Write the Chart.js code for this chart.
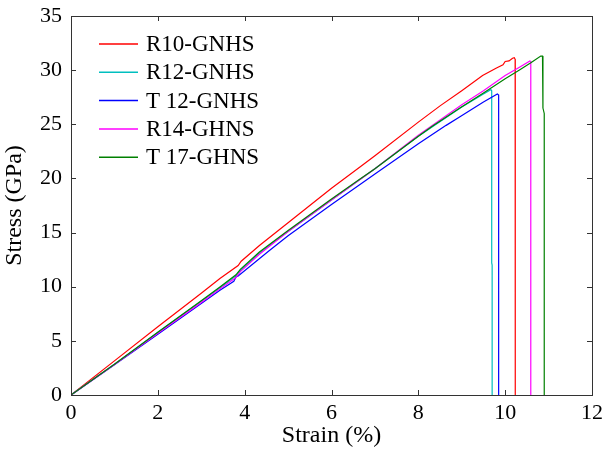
<!DOCTYPE html>
<html>
<head>
<meta charset="utf-8">
<script src="https://cdn.jsdelivr.net/npm/chart.js@4.4.0/dist/chart.umd.min.js"></script>
<style>
  html, body { margin: 0; padding: 0; background: #fff; }
  #wrap { width: 603px; height: 450px; }
</style>
</head>
<body>
<div id="wrap"><canvas id="stressChart" width="603" height="450"></canvas></div>
<script>
// values (strain %, stress GPa)
const seriesNames = ['R10-GNHS', 'R12-GNHS', 'T 12-GNHS', 'R14-GHNS', 'T 17-GHNS'];
const seriesColors = ['rgb(255,0,0)', 'rgb(0,191,191)', 'rgb(0,0,255)', 'rgb(255,0,255)', 'rgb(0,128,0)'];

const r10X = [0, 1, 2, 3, 3.43, 3.85, 3.92, 4.34, 5, 6, 6.64, 7, 8, 8.5, 9, 9.48, 9.8, 9.95, 10.0, 10.09, 10.17, 10.21, 10.23, 10.23, 10.235];
const r10Y = [0, 3.15, 6.3, 9.4, 10.75, 11.95, 12.35, 13.8, 15.9, 19.1, 21.0, 22.1, 25.2, 26.7, 28.1, 29.5, 30.2, 30.5, 30.8, 30.85, 31.1, 31.15, 31.0, 15, 0];

const r12X = [0, 1, 2, 3, 3.43, 3.8, 3.9, 4.34, 5, 6, 7, 8, 9, 9.5, 9.67, 9.69, 9.69, 9.70, 9.70];
const r12Y = [0, 2.85, 5.8, 8.65, 9.9, 11.0, 11.5, 13.1, 15.1, 18.0, 20.9, 23.9, 26.6, 27.8, 28.2, 28.1, 12.2, 12.0, 0];

const t12X = [0, 1, 2, 3, 3.43, 3.75, 3.8, 3.85, 4.57, 5, 6, 6.64, 7, 8, 8.64, 8.94, 9.5, 9.82, 9.85, 9.85];
const t12Y = [0, 2.8, 5.6, 8.45, 9.67, 10.5, 10.9, 11.0, 13.35, 14.7, 17.6, 19.4, 20.4, 23.2, 24.9, 25.65, 27.05, 27.8, 27.7, 0];

const r14X = [0, 1, 2, 3, 3.43, 3.8, 3.9, 4.34, 5, 6, 7, 8, 9, 9.5, 10, 10.3, 10.57, 10.59, 10.59];
const r14Y = [0, 2.82, 5.7, 8.55, 9.8, 10.85, 11.4, 13.0, 15.1, 18.0, 20.9, 24.0, 26.8, 28.1, 29.5, 30.2, 30.85, 30.8, 0];

const t17X = [0, 1, 2, 3, 3.43, 3.8, 3.9, 4.34, 5, 6, 6.64, 7, 8, 8.33, 8.94, 9.5, 10, 10.32, 10.6, 10.82, 10.86, 10.87, 10.90, 10.90];
const t17Y = [0, 2.85, 5.8, 8.7, 9.97, 11.1, 11.6, 13.2, 15.2, 18.1, 19.9, 20.9, 23.9, 24.85, 26.45, 27.9, 29.2, 30.0, 30.7, 31.3, 31.3, 26.5, 26.0, 0];

const xTicks = [0, 2, 4, 6, 8, 10, 12];
const yTicks = [0, 5, 10, 15, 20, 25, 30, 35];

const allX = [r10X, r12X, t12X, r14X, t17X];
const allY = [r10Y, r12Y, t12Y, r14Y, t17Y];

const FONT = '"Liberation Serif", "Times New Roman", serif';

function toPoints(xs, ys) {
    return xs.map((x, i) => ({ x: x, y: ys[i] }));
}

const datasets = seriesNames.map((name, i) => ({
    label: name,
    data: toPoints(allX[i], allY[i]),
    borderColor: seriesColors[i],
    backgroundColor: seriesColors[i],
    borderWidth: 1.2,
    pointRadius: 0,
    tension: 0,
    fill: false,
    order: seriesNames.length - i   // later series on top, like the original
}));

// inward tick marks on all four sides + box
const boxTicks = {
    id: 'boxTicks',
    afterDraw(chart) {
        const ctx = chart.ctx;
        const a = chart.chartArea;
        const xs = chart.scales.x, ys = chart.scales.y;
        const len = 5;
        ctx.save();
        ctx.strokeStyle = '#333';
        ctx.lineWidth = 1;
        ctx.strokeRect(Math.round(a.left) + 0.5, Math.round(a.top) + 0.5, Math.round(a.right - a.left), Math.round(a.bottom - a.top));
        ctx.beginPath();
        xTicks.forEach(v => {
            const px = Math.round(xs.getPixelForValue(v)) + 0.5;
            ctx.moveTo(px, a.bottom); ctx.lineTo(px, a.bottom - len);
            ctx.moveTo(px, a.top); ctx.lineTo(px, a.top + len);
        });
        yTicks.forEach(v => {
            const py = Math.round(ys.getPixelForValue(v)) + 0.5;
            ctx.moveTo(a.left, py); ctx.lineTo(a.left + len, py);
            ctx.moveTo(a.right, py); ctx.lineTo(a.right - len, py);
        });
        ctx.stroke();
        ctx.restore();
    }
};

// legend drawn inside the plot, top-left
const insideLegend = {
    id: 'insideLegend',
    afterDraw(chart) {
        const ctx = chart.ctx;
        const a = chart.chartArea;
        ctx.save();
        ctx.font = '23px ' + FONT;
        ctx.textBaseline = 'middle';
        ctx.fillStyle = '#000';
        chart.data.datasets.forEach((ds, i) => {
            const y = a.top + 28 + i * 28.3;
            ctx.strokeStyle = ds.borderColor;
            ctx.lineWidth = 1.5;
            ctx.beginPath();
            ctx.moveTo(a.left + 28, y);
            ctx.lineTo(a.left + 67, y);
            ctx.stroke();
            ctx.fillText(ds.label, a.left + 75, y + 1);
        });
        ctx.restore();
    }
};

new Chart(document.getElementById('stressChart'), {
    type: 'line',
    data: { datasets: datasets },
    options: {
        responsive: false,
        animation: false,
        layout: { padding: { top: 16, right: 11, left: 0, bottom: 0 } },
        plugins: { legend: { display: false }, tooltip: { enabled: false } },
        scales: {
            x: {
                type: 'linear',
                min: 0, max: 12,
                afterBuildTicks: s => { s.ticks = xTicks.map(v => ({ value: v })); },
                afterFit: s => { s.height = 55; s.paddingLeft = 0; s.paddingRight = 0; },
                grid: { display: false, drawTicks: false },
                border: { display: false },
                ticks: { color: '#000', padding: 5, font: { family: FONT, size: 22 }, maxRotation: 0 },
                title: { display: true, text: 'Strain (%)', color: '#000', padding: { top: -4, bottom: 0 }, font: { family: FONT, size: 24 } }
            },
            y: {
                type: 'linear',
                min: 0, max: 35,
                afterBuildTicks: s => { s.ticks = yTicks.map(v => ({ value: v })); },
                afterFit: s => { s.width = 71; s.paddingTop = 0; s.paddingBottom = 0; },
                grid: { display: false, drawTicks: false },
                border: { display: false },
                ticks: { color: '#000', padding: 9, font: { family: FONT, size: 22 } },
                title: { display: true, text: 'Stress (GPa)', color: '#000', padding: { top: 0, bottom: 0 }, font: { family: FONT, size: 24 } }
            }
        }
    },
    plugins: [boxTicks, insideLegend]
});
</script>
</body>
</html>
